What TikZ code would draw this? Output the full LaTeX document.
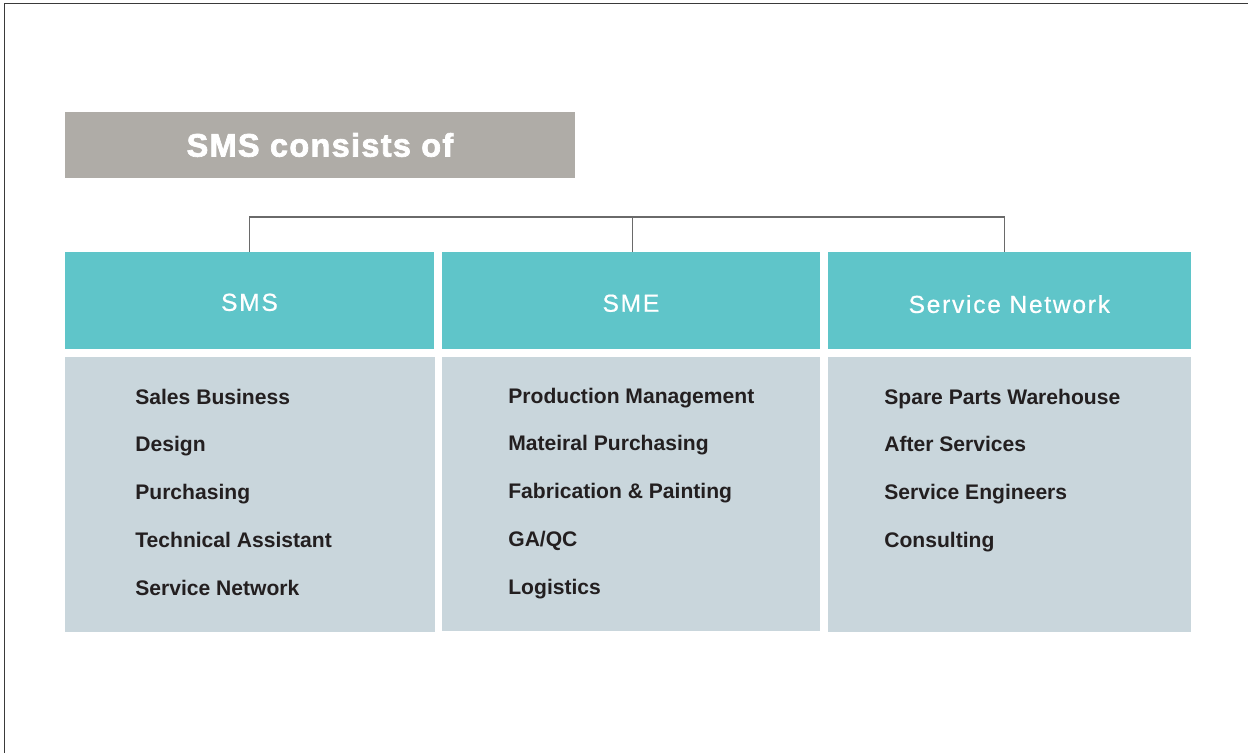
\documentclass[tikz,border=0pt]{standalone}
\usepackage{fontspec}
\setmainfont{Liberation Sans}
\newfontfamily\headfont[LetterSpace=7, FakeBold=0.6]{Liberation Sans}
\newfontfamily\titlefont[LetterSpace=4, FakeBold=2.2]{Liberation Sans}
\usepackage{xcolor}
\usetikzlibrary{positioning}
\usetikzlibrary{calc}
\definecolor{titlegray}{HTML}{AFACA7}
\definecolor{headteal}{HTML}{5FC5C9}
\definecolor{bodyblue}{HTML}{C9D6DC}
\definecolor{itemtext}{HTML}{231F20}
\definecolor{linkgray}{HTML}{6A6A6A}
\definecolor{framegray}{HTML}{3A3A3A}
\tikzstyle{title} = [rectangle, fill=titlegray, text=white, anchor=north west,
                     minimum width=10.2cm, minimum height=1.32cm, inner sep=0pt, outer sep=0pt,
                     font=\titlefont\bfseries\fontsize{18.5pt}{21pt}\selectfont]
\tikzstyle{head} = [rectangle, fill=headteal, text=white, inner sep=0pt, outer sep=0pt,
                    minimum height=1.94cm, text depth=0pt,
                    font=\headfont\fontsize{14pt}{16pt}\selectfont]
\tikzstyle{body} = [rectangle, fill=bodyblue, inner sep=0pt, outer sep=0pt, minimum height=5.5cm]
\tikzstyle{item} = [inner sep=0pt, anchor=base west, text=itemtext,
                    font=\bfseries\fontsize{12pt}{14pt}\selectfont]
\tikzstyle{link} = [draw=linkgray, line width=0.6pt]

\begin{document}
\begin{tikzpicture}[x=0.02cm, y=-0.02cm]
    \useasboundingbox (0,0) rectangle (1248,753);
    \draw[framegray, line width=0.85pt] (4.5,753) -- (4.5,3.5) -- (1248,3.5);
    \node[title] (title) at (65,112) {SMS consists of};
    \node[head, anchor=north west, minimum width=7.38cm] (sms) at (65,252) {\raisebox{-2pt}{SMS}};
    \node[head, minimum width=7.56cm] (sme) [right=0.16cm of sms] {\raisebox{-3pt}{SME}};
    \node[head, minimum width=7.26cm] (net) [right=0.16cm of sme] {\raisebox{-4pt}{Service Network}};
    \node[body, minimum width=7.4cm] (smsbody) [below=0.16cm of sms.south west, anchor=north west] {};
    \node[body, minimum width=7.56cm, minimum height=5.48cm] (smebody) [below=0.16cm of sme] {};
    \node[body, minimum width=7.26cm] (netbody) [below=0.16cm of net] {};
    % tree bar on top
    \coordinate (bar) at (0,217);
    \coordinate (smedrop) at ($(sme.north)+(2,0)$);
    \coordinate (netdrop) at ($(net.north)+(-4.5,0)$);
    \draw[link] (sms.north) |- (bar -| netdrop) -- (netdrop);
    \draw[link] (smedrop) -- (smedrop |- bar);
    % SMS items
    \node[item] (sales) at (135,404) {Sales Business};
    \node[item] (design) [below=0.96cm of sales.base west, anchor=base west] {Design};
    \node[item] (purch) [below=0.96cm of design.base west, anchor=base west] {Purchasing};
    \node[item] (tech) [below=0.96cm of purch.base west, anchor=base west] {Technical Assistant};
    \node[item] (servnet) [below=0.96cm of tech.base west, anchor=base west] {Service Network};
    % SME items
    \node[item] (prod) at (508,403) {Production Management};
    \node[item] (mat) [below=0.96cm of prod.base west, anchor=base west] {Mateiral Purchasing};
    \node[item] (fab) [below=0.96cm of mat.base west, anchor=base west] {Fabrication \& Painting};
    \node[item] (gaqc) [below=0.96cm of fab.base west, anchor=base west] {GA/QC};
    \node[item] (logi) [below=0.96cm of gaqc.base west, anchor=base west] {Logistics};
    % Service Network items
    \node[item] (spare) at (884,404) {Spare Parts Warehouse};
    \node[item] (after) [below=0.96cm of spare.base west, anchor=base west] {After Services};
    \node[item] (eng) [below=0.96cm of after.base west, anchor=base west] {Service Engineers};
    \node[item] (consult) [below=0.96cm of eng.base west, anchor=base west] {Consulting};
\end{tikzpicture}
\end{document}
